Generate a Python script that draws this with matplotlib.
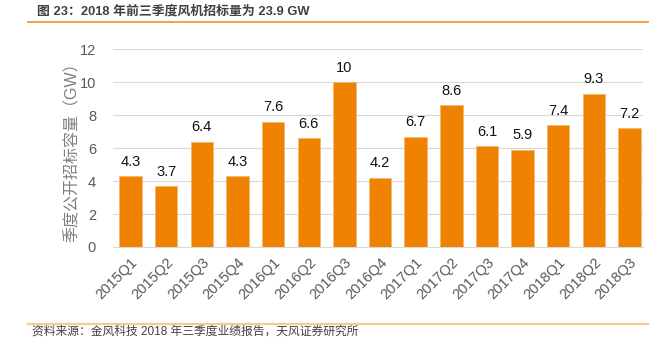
import matplotlib
matplotlib.use('Agg')
import matplotlib.pyplot as plt
from matplotlib.lines import Line2D

plt.rcParams['font.family'] = ['Liberation Sans', 'Noto Sans CJK SC', 'DejaVu Sans']

# datos del grafico
quarters = ['2015Q1', '2015Q2', '2015Q3', '2015Q4', '2016Q1', '2016Q2', '2016Q3', '2016Q4',
            '2017Q1', '2017Q2', '2017Q3', '2017Q4', '2018Q1', '2018Q2', '2018Q3']
capacity = [4.3, 3.7, 6.4, 4.3, 7.6, 6.6, 10, 4.2, 6.7, 8.6, 6.1, 5.9, 7.4, 9.3, 7.2]
labels = ['4.3', '3.7', '6.4', '4.3', '7.6', '6.6', '10', '4.2', '6.7', '8.6', '6.1', '5.9', '7.4', '9.3', '7.2']
yticks = [0, 2, 4, 6, 8, 10, 12]

title = '图 23：2018 年前三季度风机招标量为 23.9 GW'
ylabel = '季度公开招标容量（GW）'
source = '资料来源：金风科技 2018 年三季度业绩报告，天风证券研究所'

fig = plt.figure(figsize=(6.64, 3.39), dpi=100)
ax = fig.add_axes([0.1697, 0.2714, 0.7983, 0.5832])

x = range(len(quarters))
bars = ax.bar(x, capacity, width=0.63, color='#EF8200', edgecolor='#F6B870', linewidth=0.6, zorder=3)
for b, lab in zip(bars, labels):
    ax.text(b.get_x() + b.get_width() / 2, b.get_height() + 0.45, lab,
            ha='center', va='bottom', fontsize=10.5, color='#111111')

ax.set_xlim(-0.5, 14.37)
ax.set_ylim(0, 12)
ax.set_yticks(yticks)
ax.yaxis.grid(True, color='#D9D9D9', linewidth=0.8, zorder=0)
ax.set_xticks(list(x))
ax.set_xticklabels(quarters, rotation=45, ha='right', rotation_mode='anchor')
ax.tick_params(axis='both', length=0, labelsize=10.5, labelcolor='#595959')
ax.tick_params(axis='y', pad=12)
ax.tick_params(axis='x', pad=6)
for s in ['top', 'right', 'left']:
    ax.spines[s].set_visible(False)
ax.spines['bottom'].set_color('#D9D9D9')
ax.set_ylabel(ylabel, fontsize=11.5, color='#7F7F7F', labelpad=0)

# titulo y lineas de cabecera / pie
fig.text(0.056, 0.967, title, fontsize=9.3, color='#404040', fontweight='bold', va='center')
fig.add_artist(Line2D([0.042, 0.976], [0.935, 0.935], color='#F39A3B', linewidth=1.3))
fig.add_artist(Line2D([0.042, 0.976], [0.043, 0.043], color='#F9C896', linewidth=1.6))
fig.text(0.048, 0.004, source, fontsize=8.5, color='#404040', va='bottom')

fig.savefig('out.png', dpi=100)
